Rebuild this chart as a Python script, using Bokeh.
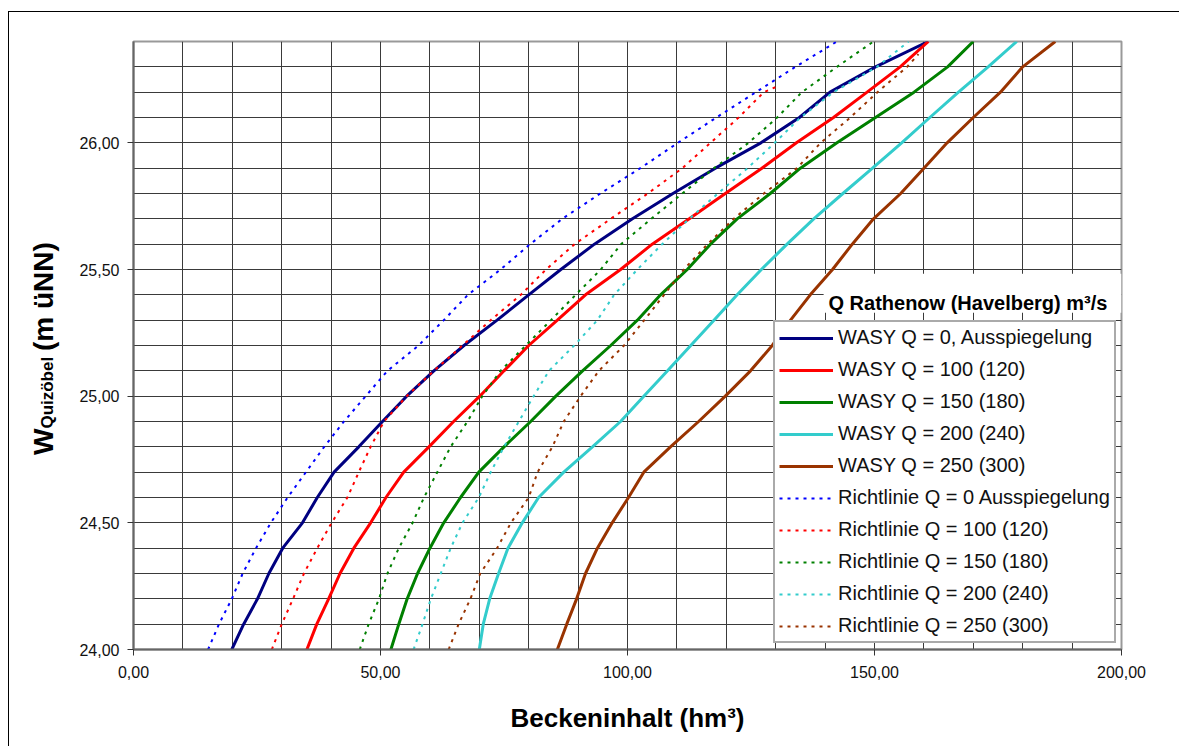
import math
from bokeh.plotting import figure
from bokeh.layouts import row
from bokeh.models import (FixedTicker, CustomJSTickFormatter, Legend, LegendItem,
                          Label, BoxAnnotation, Range1d)
from bokeh.core.properties import value
from bokeh.embed import file_html
from bokeh.resources import INLINE

# water levels (m üNN)
levels = [24.0, 24.1, 24.2, 24.3, 24.4, 24.5, 24.6, 24.7, 24.8, 24.9,
          25.0, 25.1, 25.2, 25.3, 25.4, 25.5, 25.6, 25.7, 25.8, 25.9,
          26.0, 26.1, 26.2, 26.3, 26.4]

# basin volume (hm3) - WASY
wasy_0 = [19.9, 22.3, 25.1, 27.4, 30.2, 34.2, 37.2, 40.6, 45.6, 50.4,
          55.3, 60.8, 66.9, 73.6, 80.0, 86.5, 93.3, 101.0, 109.2, 117.8,
          127.0, 134.8, 141.0, 150.2, 160.9]
wasy_100 = [35.1, 37.1, 39.5, 41.8, 44.6, 48.0, 51.1, 54.7, 59.8, 64.8,
            70.1, 75.0, 80.0, 85.8, 91.5, 98.6, 105.0, 112.5, 119.8, 127.2,
            134.2, 141.7, 148.5, 155.2, 160.9]
wasy_150 = [52.1, 53.7, 55.4, 57.5, 60.0, 62.8, 66.2, 69.9, 75.0, 80.4,
            85.5, 90.9, 96.6, 102.0, 106.7, 112.1, 116.8, 122.2, 128.9, 135.0,
            142.4, 150.2, 158.0, 164.8, 170.0]
wasy_200 = [70.0, 70.8, 72.1, 73.9, 75.8, 78.7, 82.0, 87.1, 92.9, 98.6,
            103.3, 108.1, 112.8, 117.5, 122.2, 127.1, 132.3, 137.7, 143.6, 149.6,
            155.5, 161.2, 167.0, 173.0, 178.8]
wasy_250 = [85.8, 87.7, 89.7, 91.5, 93.9, 96.9, 100.2, 103.3, 108.7, 114.4,
            119.8, 124.9, 129.3, 133.0, 137.0, 141.5, 145.5, 149.8, 155.3, 160.0,
            164.7, 170.0, 175.5, 180.0, 186.6]

# Richtlinie
richt_0 = [15.1, 17.3, 19.9, 22.1, 24.8, 27.8, 31.2, 34.9, 38.6, 42.6,
           47.0, 51.4, 57.7, 62.8, 67.7, 74.3, 80.3, 86.8, 94.5, 102.6,
           110.2, 118.0, 126.0, 134.0, 142.4]
richt_100_levels = [24.0, 24.1, 24.2, 24.3, 24.4, 24.5, 24.6, 24.7, 24.8, 24.9,
                    25.0, 25.1, 25.2, 25.3, 25.4, 25.5, 25.6, 25.7, 25.8, 25.9,
                    26.0, 26.1, 26.2, 26.22]
richt_100 = [28.0, 30.0, 32.3, 34.5, 37.2, 40.1, 43.3, 45.6, 48.0, 50.7,
             55.3, 60.8, 66.6, 72.3, 78.4, 83.5, 89.3, 96.6, 104.1, 111.1,
             116.8, 122.5, 127.6, 130.0]
richt_150 = [45.8, 47.6, 49.7, 51.4, 53.7, 56.5, 58.8, 61.5, 64.2, 67.6,
             70.6, 74.3, 79.4, 84.5, 89.5, 94.6, 98.7, 104.8, 111.1, 117.5,
             124.5, 130.3, 135.3, 142.4, 149.8]
richt_200 = [56.7, 58.5, 60.2, 62.2, 64.2, 66.6, 69.9, 72.3, 75.0, 78.0,
             81.0, 84.1, 89.2, 93.9, 97.3, 102.0, 107.0, 112.5, 118.3, 124.3,
             129.8, 135.0, 141.7, 150.5, 156.9]
richt_250_levels = [24.0, 24.1, 24.2, 24.3, 24.4, 24.5, 24.6, 24.7, 24.8, 24.9,
                    25.0, 25.1, 25.2, 25.3, 25.4, 25.5, 25.6, 25.7, 25.8, 25.9,
                    26.0, 26.1, 26.2, 26.3, 26.35]
richt_250 = [63.8, 65.8, 68.2, 70.2, 73.6, 76.4, 80.0, 81.8, 84.8, 87.1,
             90.5, 94.2, 99.3, 103.4, 107.4, 111.4, 116.2, 121.5, 127.6, 134.3,
             139.1, 145.1, 150.6, 156.6, 158.9]

labels = ["WASY Q = 0, Ausspiegelung", "WASY Q = 100 (120)", "WASY Q = 150 (180)",
          "WASY Q = 200 (240)", "WASY Q = 250 (300)",
          "Richtlinie Q = 0 Ausspiegelung", "Richtlinie Q = 100 (120)",
          "Richtlinie Q = 150 (180)", "Richtlinie Q = 200 (240)",
          "Richtlinie Q = 250 (300)"]
x_ticks = [0, 50, 100, 150, 200]
y_ticks = [24.0, 24.5, 25.0, 25.5, 26.0]
y_title_parts = ["W", "Quiz\u00f6bel", "(m \u00fcNN)"]

FONT = "Liberation Sans"
H = 734

yr = Range1d(24, 26.4)

# ---- narrow panel holding the rotated y axis title -------------------------
t = figure(width=60, height=H, x_range=Range1d(0, 60), y_range=yr,
           output_backend="svg", toolbar_location=None, x_axis_type=None,
           y_axis_type=None, min_border=0, min_border_top=29, min_border_bottom=97,
           outline_line_color=None,
           background_fill_color="white", border_fill_color="white")
t.grid.visible = False
for txt, tx, ty, size in zip(y_title_parts, [34, 37.5, 34], [24.768, 24.872, 25.178],
                             ["28px", "17px", "28px"]):
    t.text(x=[tx], y=[ty], text=[txt], angle=math.pi / 2,
           text_font=value(FONT), text_font_size=size, text_font_style="bold",
           text_color="black", text_align="left", text_baseline="alphabetic")

# ---- main chart ---------------------------------------------------------------
p = figure(width=1110, height=H, x_range=Range1d(0, 200), y_range=yr,
           output_backend="svg", toolbar_location=None,
           min_border_left=64, min_border_right=58, min_border_top=29,
           min_border_bottom=97, background_fill_color="white",
           border_fill_color="white")

p.xaxis.ticker = FixedTicker(ticks=x_ticks)
p.yaxis.ticker = FixedTicker(ticks=y_ticks)
p.xgrid.ticker = FixedTicker(ticks=list(range(0, 201, 10)))
p.ygrid.ticker = FixedTicker(ticks=[round(24 + 0.1 * i, 1) for i in range(25)])
fmt = CustomJSTickFormatter(code="return tick.toFixed(2).replace('.', ',');")
for ax in (p.xaxis, p.yaxis):
    ax.formatter = fmt
    ax.axis_line_color = "#666666"
    ax.axis_line_width = 2
    ax.major_tick_out = 6
    ax.major_tick_in = 0
    ax.major_tick_line_color = "#333333"
    ax.minor_tick_line_color = None
    ax.major_label_text_font = FONT
    ax.major_label_text_font_size = "16px"
    ax.major_label_text_color = "#111111"
p.xaxis.major_label_standoff = 10
p.yaxis.major_label_standoff = 8

p.xaxis.axis_label = "Beckeninhalt (hm\u00b3)"
p.xaxis.axis_label_text_font = FONT
p.xaxis.axis_label_text_font_size = "26px"
p.xaxis.axis_label_text_font_style = "bold"
p.xaxis.axis_label_text_color = "black"
p.xaxis.axis_label_standoff = 22

for g in (p.xgrid, p.ygrid):
    g.grid_line_color = "#3a3a3a"
    g.grid_line_width = 1
    g.grid_line_alpha = 1.0

p.outline_line_color = "#999999"
p.outline_line_width = 2

solid_cols = ["#000080", "#FF0000", "#008000", "#33CCCC", "#993300"]
dot_cols = ["#0000FF", "#FF0000", "#008000", "#33CCCC", "#993300"]

solid_data = [(wasy_0, levels), (wasy_100, levels), (wasy_150, levels),
              (wasy_200, levels), (wasy_250, levels)]
dot_data = [(richt_0, levels), (richt_100, richt_100_levels), (richt_150, levels),
            (richt_200, levels), (richt_250, richt_250_levels)]

rs = []
for (xs, ys), c in zip(solid_data, solid_cols):
    rs.append(p.line(xs, ys, line_color=c, line_width=3))
rd = []
for (xs, ys), c in zip(dot_data, dot_cols):
    rd.append(p.line(xs, ys, line_color=c, line_width=2, line_dash="3 5"))

# white box behind the legend title
p.add_layout(BoxAnnotation(left=139.7, right=200, bottom=25.329, top=25.483,
                           fill_color="white", fill_alpha=1.0, line_color=None,
                           level="underlay"))

items = [LegendItem(label=l, renderers=[r]) for l, r in zip(labels, rs + rd)]
leg = Legend(items=items, location=(640, 6), label_text_font=FONT,
             label_text_font_size="20px", label_text_color="#111111",
             glyph_width=54, glyph_height=22, label_height=22, spacing=9,
             padding=4, margin=0, label_standoff=5,
             border_line_color="#555555", border_line_width=2,
             background_fill_color="white", background_fill_alpha=1.0)
p.add_layout(leg)

p.add_layout(Label(x=140.68, y=25.368, text="Q Rathenow (Havelberg) m\u00b3/s",
                   text_font=FONT, text_font_size="20px", text_font_style="bold",
                   text_color="black", text_align="left", text_baseline="alphabetic"))

layout = row(t, p, spacing=0)
layout.styles = {"border-top": "1px solid black", "border-left": "1px solid black",
                 "margin-top": "11px", "margin-left": "8px"}

open("out.html", "w").write(file_html(layout, INLINE))
